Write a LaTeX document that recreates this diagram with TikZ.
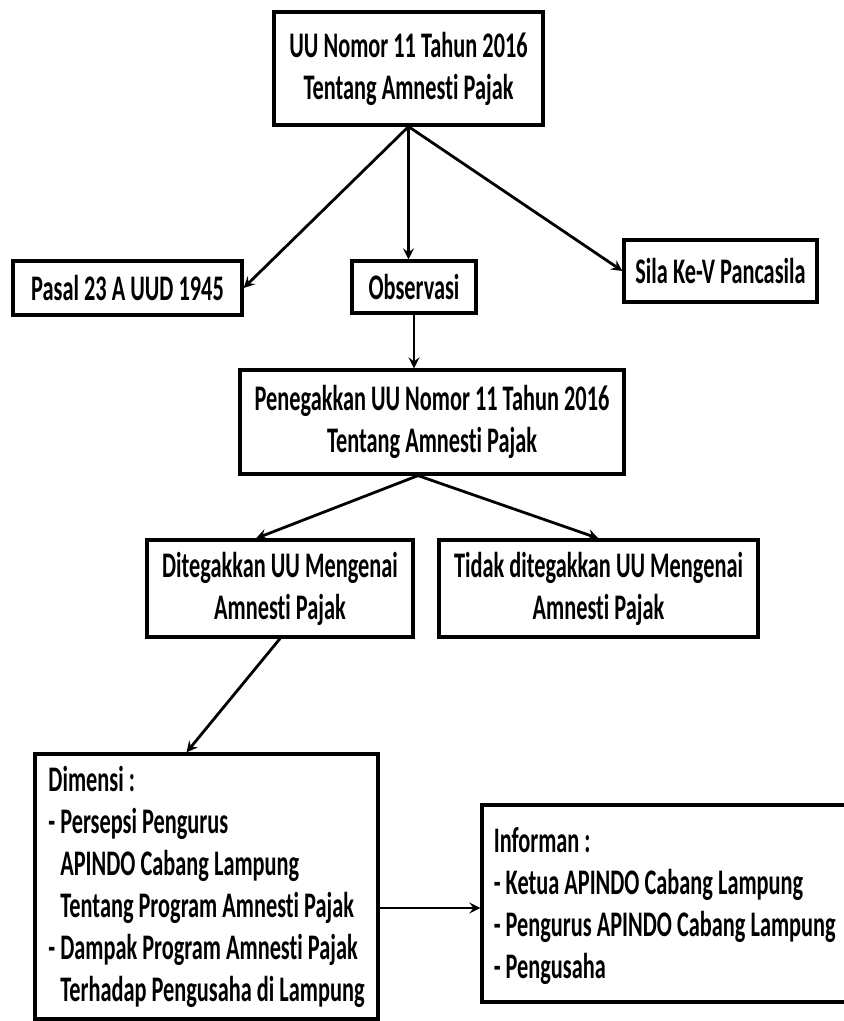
\documentclass[tikz,border=0pt]{standalone}
\usepackage{fontspec}
\setmainfont[FakeStretch=0.62, Ligatures=NoCommon]{Carlito}
\usepackage{tikz}
\usetikzlibrary{shapes,arrows,positioning}

\begin{document}
\begin{tikzpicture}[
    x=0.5pt, y=-0.5pt,
    mybox/.style={draw, line width=1.6pt, rectangle, inner sep=0pt, align=center, font=\fontsize{18}{21}\selectfont\bfseries},
    mylist/.style={mybox, align=left},
    mytext/.style={inner sep=0pt, align=left, font=\fontsize{18}{21}\selectfont\bfseries},
    myedge/.style={->, line width=1.4pt, >=stealth}
]
\useasboundingbox (0,0) rectangle (843,1021);

\node[mybox, minimum width=134.5pt, minimum height=56.5pt] (uu) at (408.5,68.5) {UU Nomor 11 Tahun 2016\\Tentang Amnesti Pajak};
\node[mybox, minimum width=114.5pt, minimum height=27pt] (pasal) at (127.5,288) {Pasal 23 A UUD 1945};
\node[mybox, minimum width=62pt, minimum height=26pt] (obs) at (414,287) {Observasi};
\node[mybox, minimum width=96.5pt, minimum height=31pt] (sila) at (720.5,271) {Sila Ke-V Pancasila};
\node[mybox, minimum width=192pt, minimum height=52pt] (pen) at (432,422) {Penegakkan UU Nomor 11 Tahun 2016\\Tentang Amnesti Pajak};
\node[mybox, minimum width=133pt, minimum height=48.5pt] (dit) at (280,588.5) {Ditegakkan UU Mengenai\\Amnesti Pajak};
\node[mybox, minimum width=159.5pt, minimum height=48.5pt] (tid) at (598.5,588.5) {Tidak ditegakkan UU Mengenai\\Amnesti Pajak};
\node[mylist, minimum width=171.5pt, minimum height=132.5pt] (dim) at (206.5,886.5) {Dimensi :\\- Persepsi Pengurus\\\phantom{- }APINDO Cabang Lampung\\\phantom{- }Tentang Program Amnesti Pajak\\- Dampak Program Amnesti Pajak\\\phantom{- }Terhadap Pengusaha di Lampung};
% kotak informan terpotong di tepi kanan
\node[mybox, minimum width=199pt, minimum height=98.5pt] (inf) at (681,903.5) {};
\node[mytext, anchor=west] (inftext) at ([xshift=6.5pt,yshift=-1.5pt]inf.west) {Informan :\\- Ketua APINDO Cabang Lampung\\- Pengurus APINDO Cabang Lampung\\- Pengusaha};

% dari UU ke tiga kotak di bawahnya
\draw[myedge] (uu.south) -- (pasal.east);
\draw[myedge] (uu.south) -- (uu.south |- obs.north);
\draw[myedge] (uu.south) -- (sila.west);
\draw[myedge] (obs.south) -- (obs.south |- pen.north);
% penegakkan
\draw[myedge] ([xshift=-7pt]pen.south) -- ([xshift=-12pt]dit.north);
\draw[myedge] ([xshift=-7pt]pen.south) -- (tid.north);
\draw[myedge] (dit.south) -- ([xshift=-10pt]dim.north);
\draw[myedge] (dim.east |- 0,908) -- (inf.west |- 0,908);
\end{tikzpicture}
\end{document}
